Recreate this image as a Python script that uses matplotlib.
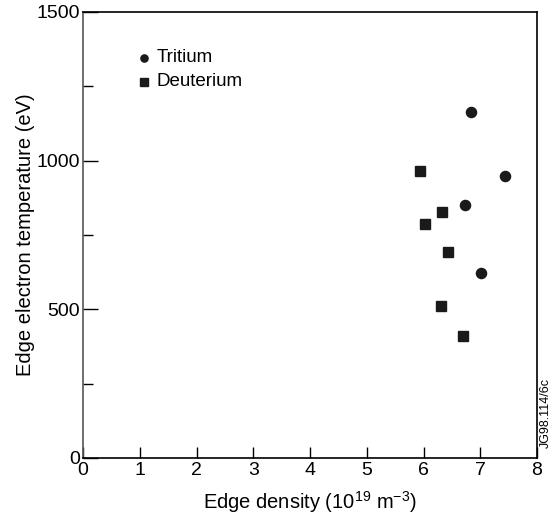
import matplotlib
matplotlib.use("Agg")
import matplotlib.pyplot as plt
from matplotlib.ticker import MultipleLocator

plt.rcParams['font.family'] = ['Liberation Sans', 'DejaVu Sans']
plt.rcParams['mathtext.fontset'] = 'custom'
plt.rcParams['mathtext.rm'] = 'Liberation Sans'

tritium_x = [6.83, 7.44, 6.74, 7.01]
tritium_y = [1162, 950, 851, 623]
deuterium_x = [5.93, 6.33, 6.03, 6.44, 6.31, 6.70]
deuterium_y = [965, 826, 787, 693, 510, 409]

fig = plt.figure(figsize=(5.56, 5.19), dpi=100)
ax = fig.add_axes([83/556, 1-458/519, (537-83)/556, (458-12)/519])

ax.plot(tritium_x, tritium_y, 'o', color='#1a1a1a', markersize=7.3, linestyle='none')
ax.plot(deuterium_x, deuterium_y, 's', color='#1a1a1a', markersize=7.6, linestyle='none')

ax.set_xlim(0, 8)
ax.set_ylim(0, 1500)
ax.xaxis.set_major_locator(MultipleLocator(1))
ax.yaxis.set_major_locator(MultipleLocator(500))
ax.yaxis.set_minor_locator(MultipleLocator(250))
ax.tick_params(axis='both', which='major', direction='in', labelsize=14)
ax.tick_params(axis='y', which='major', length=11, width=1, pad=2)
ax.tick_params(axis='x', which='major', length=8, width=1, pad=3)
ax.tick_params(axis='y', which='minor', direction='in', length=7, width=1)
for s in ax.spines.values():
    s.set_linewidth(1.2)
ax.spines['left'].set_color('#555555')

ax.set_xlabel(r'Edge density (10$^{\mathrm{19}}$ m$^{\mathrm{-3}}$)', fontsize=14.5, labelpad=7)
ax.set_ylabel('Edge electron temperature (eV)', fontsize=14.5, labelpad=1)

# legend (marker + label)
legend_labels = ['Tritium', 'Deuterium']
legend_markers = ['o', 's']
for i, (lab, mk) in enumerate(zip(legend_labels, legend_markers)):
    yy = 1-(58+24*i-12)/446
    ax.plot([(144-83)/454], [yy], mk, color='#1a1a1a', markersize=5.2,
            transform=ax.transAxes, clip_on=False)
    ax.text((157-83)/454, yy, lab, fontsize=13.5, ha='left', va='center',
            transform=ax.transAxes)

fig.text(546/556, 1-413/519, 'JG98.114/6c', rotation=90, fontsize=9, ha='center', va='center')

fig.savefig('out.png', dpi=100)
